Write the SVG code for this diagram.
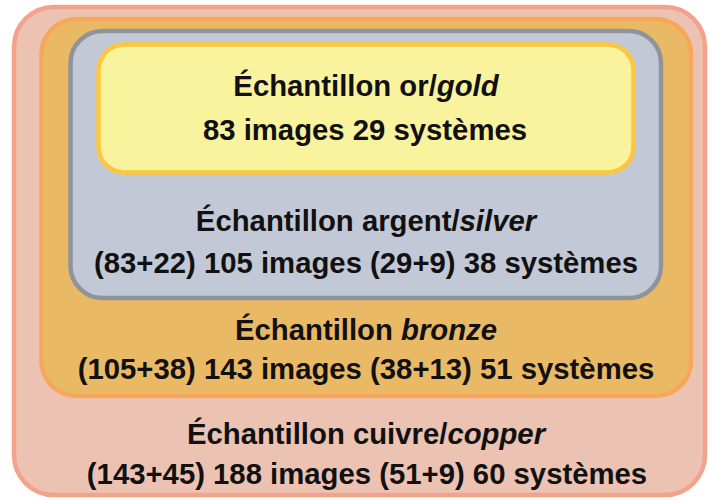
<svg xmlns="http://www.w3.org/2000/svg" width="709" height="500" viewBox="0 0 709 500">
<style>
.box{stroke-width:4.5}
.t{font-family:"Liberation Sans",Arial,Helvetica,sans-serif;font-weight:bold;font-size:29.3px;fill:#111;text-anchor:middle}
.i{font-style:italic}
</style>
<rect width="709" height="500" fill="#ffffff"/>
<g id="copper">
<rect class="box" x="14" y="7" width="691" height="488" rx="40" fill="#ECC3B2" stroke="#F2A28D"/>
<text class="t" x="366" y="444">Échantillon cuivre/<tspan class="i">copper</tspan></text>
<text class="t" x="367" y="484">(143+45) 188 images (51+9) 60 systèmes</text>
</g>
<g id="bronze">
<rect class="box" x="41.5" y="19" width="649.5" height="377" rx="35" fill="#EAB966" stroke="#F7A75C"/>
<text class="t" x="366" y="340">Échantillon <tspan class="i">bronze</tspan></text>
<text class="t" x="366" y="379">(105+38) 143 images (38+13) 51 systèmes</text>
</g>
<g id="silver">
<rect class="box" x="70.5" y="31" width="590.5" height="267" rx="32" fill="#C3C8D6" stroke="#8F949A"/>
<text class="t" x="366" y="231">Échantillon argent/<tspan class="i">silver</tspan></text>
<text class="t" x="366" y="273">(83+22) 105 images (29+9) 38 systèmes</text>
</g>
<g id="gold">
<rect class="box" x="98.5" y="44.5" width="535" height="128" rx="26" fill="#FAF39E" stroke="#FDC640"/>
<text class="t" x="366" y="96">Échantillon or/<tspan class="i">gold</tspan></text>
<text class="t" x="365" y="140">83 images 29 systèmes</text>
</g>
<g id="connectors"/>
</svg>
